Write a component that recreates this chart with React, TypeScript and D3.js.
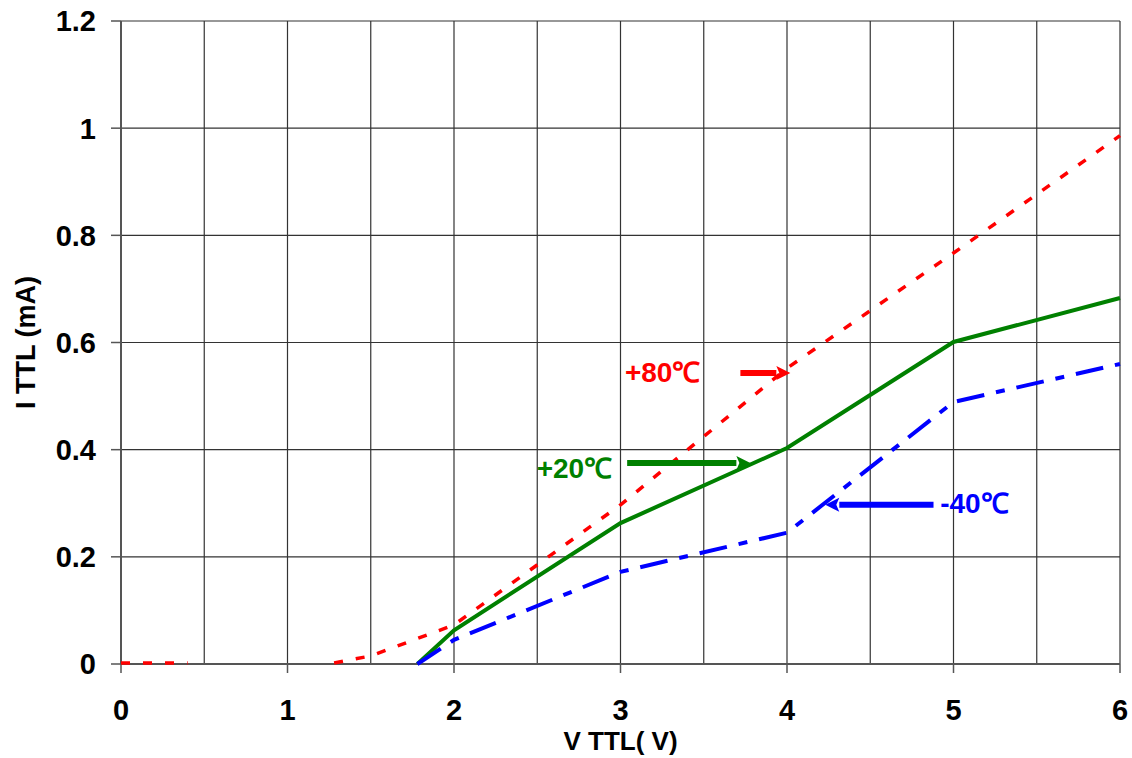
import React from "react"
import * as d3 from "d3"

// readings: [V TTL, I TTL (mA)]; null breaks the line
const red80: ([number, number] | null)[] = [
  [0, 0.002], [0.4, 0.002], null,
  [1.28, 0.002], [1.5, 0.015], [2, 0.073], [3, 0.297], [4, 0.552], [5, 0.767], [6, 0.986],
]
const green20: [number, number][] = [
  [1.78, 0], [2, 0.063], [3, 0.263], [4, 0.403], [5, 0.601], [6, 0.683],
]
const blue40: [number, number][] = [
  [1.78, 0], [2, 0.045], [3, 0.172], [4, 0.245], [5, 0.489], [6, 0.56],
]

const xTicks = [0, 1, 2, 3, 4, 5, 6]
const xGrid = [0.5, 1, 1.5, 2, 2.5, 3, 3.5, 4, 4.5, 5, 5.5, 6]
const yTicks = [0, 0.2, 0.4, 0.6, 0.8, 1, 1.2]

// label text, colour, text anchor point, arrow tail, arrow tip (data units)
const notes = [
  { text: "+80\u2103", color: "#ff0000", tx: 3.48, ty: 0.526, anchor: "end", from: [3.72, 0.543], to: [4.02, 0.543] },
  { text: "+20\u2103", color: "#008000", tx: 2.95, ty: 0.347, anchor: "end", from: [3.04, 0.375], to: [3.78, 0.375] },
  { text: "-40\u2103", color: "#0000ff", tx: 4.92, ty: 0.282, anchor: "start", from: [4.88, 0.297], to: [4.23, 0.297] },
]

const W = 1132
const H = 758
const margin = { left: 121, right: 12, top: 21, bottom: 94 }
const font = "Arial, 'Liberation Sans', Helvetica, sans-serif"

export default function App() {
  React.useEffect(() => {
    document.body.style.margin = "0"
  }, [])

  const x = d3.scaleLinear().domain([0, 6]).range([margin.left, W - margin.right])
  const y = d3.scaleLinear().domain([0, 1.2]).range([H - margin.bottom, margin.top])

  const line = d3
    .line<[number, number] | null>()
    .defined(d => d !== null)
    .x(d => x(d![0]))
    .y(d => y(d![1]))

  const arrow = (n: typeof notes[number]) => {
    const x1 = x(n.from[0]), x2 = x(n.to[0]), yy = y(n.from[1])
    const dir = Math.sign(x2 - x1)
    const head = 14
    return (
      <g key={n.text}>
        <line x1={x1} y1={yy} x2={x2 - dir * head} y2={yy} stroke={n.color} strokeWidth={6} />
        <path
          d={`M${x2},${yy} L${x2 - dir * head},${yy - 7} L${x2 - dir * (head - 3)},${yy} L${x2 - dir * head},${yy + 7} Z`}
          fill={n.color}
        />
      </g>
    )
  }

  return (
    <svg width={W} height={H} style={{ display: "block", background: "#fff" }} fontFamily={font}>
      {/* grid */}
      {yTicks.map(t => (
        <line key={"hy" + t} x1={x(0)} x2={x(6)} y1={y(t)} y2={y(t)} stroke="#333" strokeWidth={1.2} />
      ))}
      {xGrid.map(t => (
        <line key={"gx" + t} x1={x(t)} x2={x(t)} y1={y(0)} y2={y(1.2)} stroke="#333" strokeWidth={1.2} />
      ))}
      <line x1={x(0)} x2={x(0)} y1={y(0)} y2={y(1.2)} stroke="#555" strokeWidth={2} />
      <line x1={x(0)} x2={x(6)} y1={y(0)} y2={y(0)} stroke="#555" strokeWidth={2} />

      {/* ticks */}
      {yTicks.map(t => (
        <g key={"ty" + t}>
          <line x1={x(0) - 10} x2={x(0)} y1={y(t)} y2={y(t)} stroke="#555" strokeWidth={1.5} />
          <text x={x(0) - 25} y={y(t)} dy="0.36em" textAnchor="end" fontSize={29} fontWeight="bold">
            {d3.format("~g")(t)}
          </text>
        </g>
      ))}
      {xTicks.map(t => (
        <g key={"tx" + t}>
          <line x1={x(t)} x2={x(t)} y1={y(0)} y2={y(0) + 9} stroke="#555" strokeWidth={1.5} />
          <text x={x(t)} y={y(0) + 56} textAnchor="middle" fontSize={29} fontWeight="bold">
            {t}
          </text>
        </g>
      ))}

      {/* axis titles */}
      <text x={(x(0) + x(6)) / 2} y={H - 8} textAnchor="middle" fontSize={26} fontWeight="bold">
        V TTL( V)
      </text>
      <text
        transform={`translate(${35},${(y(0) + y(1.2)) / 2}) rotate(-90)`}
        textAnchor="middle"
        fontSize={27}
        fontWeight="bold"
      >
        I TTL (mA)
      </text>

      {/* series */}
      <path d={line(red80) ?? ""} fill="none" stroke="#ff0000" strokeWidth={3.5} strokeDasharray="9,13" />
      <path d={line(green20) ?? ""} fill="none" stroke="#008000" strokeWidth={4} />
      <path d={line(blue40) ?? ""} fill="none" stroke="#0000ff" strokeWidth={4} strokeDasharray="28,12,9,12" />

      {/* labels */}
      {notes.map(arrow)}
      {notes.map(n => (
        <text
          key={"l" + n.text}
          x={x(n.tx)}
          y={y(n.ty)}
          textAnchor={n.anchor}
          fill={n.color}
          fontSize={28}
          fontWeight="bold"
        >
          {n.text}
        </text>
      ))}
    </svg>
  )
}
